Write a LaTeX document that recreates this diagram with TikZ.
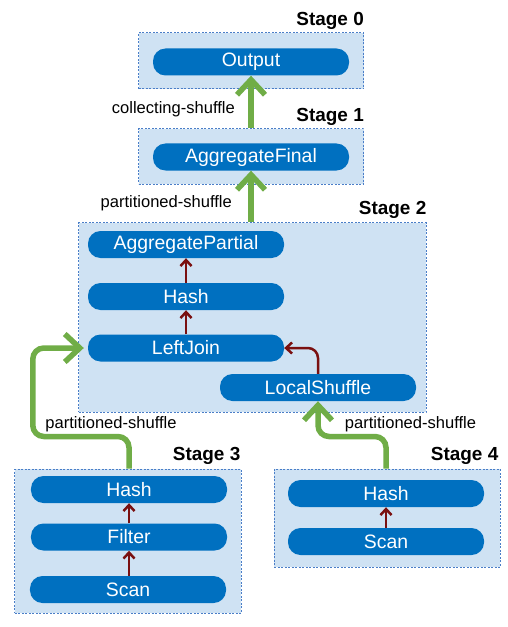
\documentclass[tikz,border=0pt]{standalone}
\usepackage{fontspec}
\setmainfont{Liberation Sans}
\usetikzlibrary{arrows.meta,calc}
\definecolor{boxfill}{RGB}{207,226,243}
\definecolor{boxline}{RGB}{74,126,200}
\definecolor{opblue}{RGB}{0,112,192}
\definecolor{flowgreen}{RGB}{112,173,71}
\definecolor{linkred}{RGB}{122,16,16}
\tikzset{
  stagebox/.style={draw=boxline, fill=boxfill, line width=1bp, dash pattern=on 2bp off 1.5bp, inner sep=0pt},
  opnode/.style={fill=opblue, text=white, rounded corners=12.5bp, minimum width=196bp, minimum height=27bp, inner sep=0pt, font=\fontsize{19.5}{22}\selectfont},
  stagelabel/.style={anchor=base east, inner sep=0pt, font=\fontsize{19}{22}\selectfont\bfseries},
  flowlabel/.style={inner sep=0pt, font=\fontsize{16.6}{19}\selectfont},
  shuffle/.style={draw=flowgreen, line width=5.5bp, -{Straight Barb[length=15bp,width=28bp,line width=5.5bp]}},
  local/.style={draw=linkred, line width=2.5bp, -{Straight Barb[length=6bp,width=11bp,line width=2.5bp]}}
}
\begin{document}
\begin{tikzpicture}[x=1bp,y=-1bp]
\useasboundingbox (0,0) rectangle (508,627);
% stage boxes
\node (s0) [stagebox, minimum width=225bp, minimum height=56bp] at (251,61) {};
\node (s1) [stagebox, minimum width=225bp, minimum height=55bp] at (251,156.5) {};
\node (s2) [stagebox, minimum width=347bp, minimum height=189bp] at (252.5,317.5) {};
\node (s3) [stagebox, minimum width=226bp, minimum height=144bp] at (128,541) {};
\node (s4) [stagebox, minimum width=226bp, minimum height=98bp] at (387,518) {};
% stage labels
\node (l0) [stagelabel] at ($(s0.north east)+(0,-7)$) {Stage 0};
\node (l1) [stagelabel] at ($(s1.north east)+(0,-7)$) {Stage 1};
\node (l2) [stagelabel] at ($(s2.north east)+(0,-8)$) {Stage 2};
\node (l3) [stagelabel] at ($(s3.north east)+(-1,-8)$) {Stage 3};
\node (l4) [stagelabel] at ($(s4.north east)+(-2,-8)$) {Stage 4};
% operators
\node (out) [opnode] at (251,62) {Output};
\node (aggf) [opnode] at (251,157) {AggregateFinal};
\node (aggp) [opnode] at (186,244.5) {AggregatePartial};
\node (hash2) [opnode] at (186,296.5) {Hash};
\node (lj) [opnode] at (186,348) {LeftJoin};
\node (ls) [opnode] at (318,387.5) {LocalShuffle};
\node (hash3) [opnode] at (129,489.5) {Hash};
\node (filter) [opnode] at (129,537) {Filter};
\node (scan3) [opnode] at (128,589.5) {Scan};
\node (hash4) [opnode] at (386,493.5) {Hash};
\node (scan4) [opnode] at (386,541.5) {Scan};
% local connectors
\draw[local] (hash2.north) -- (aggp.south);
\draw[local] (lj.north) -- (hash2.south);
\draw[local, rounded corners=10bp] (ls.north) |- (lj.east);
\draw[local] (filter.north) -- (hash3.south);
\draw[local] (scan3.north -| filter.south) -- (filter.south);
\draw[local] (scan4.north) -- (hash4.south);
% shuffles
\draw[shuffle] (s1.north) -- (out.south);
\draw[shuffle] (aggf.south |- s2.north) -- (aggf.south);
\draw[shuffle, rounded corners=11bp, shorten >=4bp] (hash3.north |- s3.north) -- ++(0,-32) -| ($(lj.west)+(-55,0)$) -- (lj.west);
\draw[shuffle, rounded corners=11bp] (hash4.north |- s4.north) -- ++(0,-32) -| (ls.south);
% shuffle labels
\node (c1) [flowlabel, anchor=east] at (235,109) {collecting-shuffle};
\node (c2) [flowlabel, anchor=east] at (232,203) {partitioned-shuffle};
\node (c3) [flowlabel] at (111,424) {partitioned-shuffle};
\node (c4) [flowlabel] at (410.5,424) {partitioned-shuffle};
\end{tikzpicture}
\end{document}
